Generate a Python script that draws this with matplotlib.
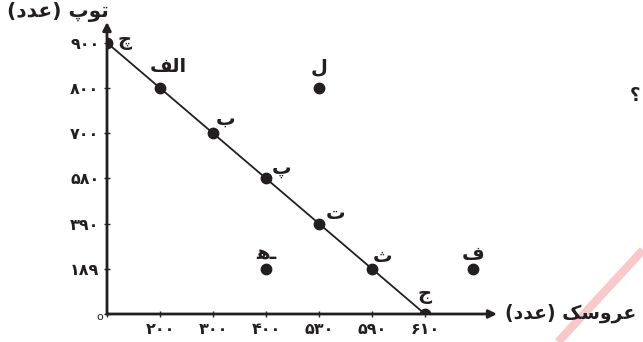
import numpy as np
import matplotlib
matplotlib.use("Agg")
import matplotlib.pyplot as plt
from matplotlib.lines import Line2D

plt.rcParams['font.family'] = ['DejaVu Sans']

# tick values on each axis (spaced evenly in the picture, not linearly)
x_ticks = [0, 200, 300, 400, 530, 590, 610]
y_ticks = [0, 189, 390, 580, 700, 800, 900]
x_labels = ['', '\u06f2\u06f0\u06f0', '\u06f3\u06f0\u06f0', '\u06f4\u06f0\u06f0',
            '\u06f5\u06f3\u06f0', '\u06f5\u06f9\u06f0', '\u06f6\u06f1\u06f0']
y_labels = ['', '\u06f1\u06f8\u06f9', '\u06f3\u06f9\u06f0', '\u06f5\u06f8\u06f0',
            '\u06f7\u06f0\u06f0', '\u06f8\u06f0\u06f0', '\u06f9\u06f0\u06f0']

# frontier points  (che, alef, be, pe, te, se, jim)
front_x = [0, 200, 300, 400, 530, 590, 610]
front_y = [900, 800, 700, 580, 390, 189, 0]
front_names = ['\u0686', '\ufed2\ufedf\ufe8d', '\u0628', '\u067e', '\u062a', '\u062b', '\u062c']

# points off the frontier (lam, he, fe)
other_x = [530, 400, 628]
other_y = [800, 189, 189]
other_names = ['\u0644', '\ufeeb\u0640', '\u0641']

# shaped, visual order
ylabel = '(\ufea9\ufeaa\ufecb) \ufb56\ufeee\ufe97'
xlabel = '(\ufea9\ufeaa\ufecb) \ufb8f\ufeb3\ufeed\ufeae\ufecb'


def make_scale(vals):
    vals = np.asarray(vals, float)
    idx = np.arange(len(vals), dtype=float)
    step = vals[-1] - vals[-2]

    def fwd(v):
        v = np.asarray(v, float)
        out = np.interp(v, vals, idx)
        return np.where(v > vals[-1], idx[-1] + (v - vals[-1]) / step, out)

    def inv(p):
        p = np.asarray(p, float)
        out = np.interp(p, idx, vals)
        return np.where(p > idx[-1], vals[-1] + (p - idx[-1]) * step, out)
    return fwd, inv


ink = '#231f20'
fig = plt.figure(figsize=(6.43, 3.42), dpi=100)
ax = fig.add_axes([107 / 643, 28 / 342, 390 / 643, 292 / 342])

fx = make_scale(x_ticks)
fy = make_scale(y_ticks)
ax.set_xscale('function', functions=fx)
ax.set_yscale('function', functions=fy)
ax.set_xlim(0, fx[1](7.36))
ax.set_ylim(0, fy[1](6.46))

ax.plot(front_x, front_y, color=ink, lw=1.3, zorder=2)
ax.plot(front_x, front_y, 'o', color=ink, ms=7.5, zorder=3)
ax.plot(other_x, other_y, 'o', color=ink, ms=7.5, zorder=3)

offs = [(18, 2), (8, 21), (13, 14), (16, 10), (17, 10), (11, 12), (0, 19)]
for x, y, s, o in zip(front_x, front_y, front_names, offs):
    ax.annotate(s, (x, y), xytext=o, textcoords='offset pixels', ha='center',
                va='center', fontsize=14, fontweight='bold', color=ink)
for x, y, s, o in zip(other_x, other_y, other_names, [(0, 21), (0, 15), (0, 14)]):
    ax.annotate(s, (x, y), xytext=o, textcoords='offset pixels', ha='center',
                va='center', fontsize=14, fontweight='bold', color=ink)

for sp in ax.spines.values():
    sp.set_visible(False)
ax.set_xticks(x_ticks, x_labels)
ax.set_yticks(y_ticks, y_labels)
ax.minorticks_off()
ax.tick_params(direction='inout', length=5, width=1, color=ink, labelsize=11.5,
               labelcolor=ink, pad=3)
for t in ax.get_xticklabels() + ax.get_yticklabels():
    t.set_fontweight('bold')

# axes with arrow heads
ax.annotate('', xy=(1.0, 0), xytext=(0, 0), xycoords='axes fraction',
            arrowprops=dict(arrowstyle='-|>', color=ink, lw=2, mutation_scale=12,
                            shrinkA=0, shrinkB=0))
ax.annotate('', xy=(0, 1.0), xytext=(0, 0), xycoords='axes fraction',
            arrowprops=dict(arrowstyle='-|>', color=ink, lw=2, mutation_scale=12,
                            shrinkA=0, shrinkB=0))

fig.text(100 / 643, 1 - 317 / 342, 'o', fontsize=8, color=ink, ha='center', va='center')
fig.text(58 / 643, 1 - 12 / 342, ylabel, fontsize=14.5, fontweight='bold', color=ink,
         ha='center', va='center')
fig.text(571 / 643, 1 - 313 / 342, xlabel, fontsize=13.5, fontweight='bold', color=ink,
         ha='center', va='center')
fig.text(635 / 643, 1 - 96 / 342, '\u061f', fontsize=13, fontweight='bold', color=ink,
         ha='center', va='center')

# watermark stroke
fig.add_artist(Line2D([558 / 643, 1.0], [0, 1 - 250 / 342], transform=fig.transFigure,
                      color='#f27a7a', alpha=0.4, lw=6, solid_capstyle='butt'))

fig.savefig('out.png', dpi=100)
